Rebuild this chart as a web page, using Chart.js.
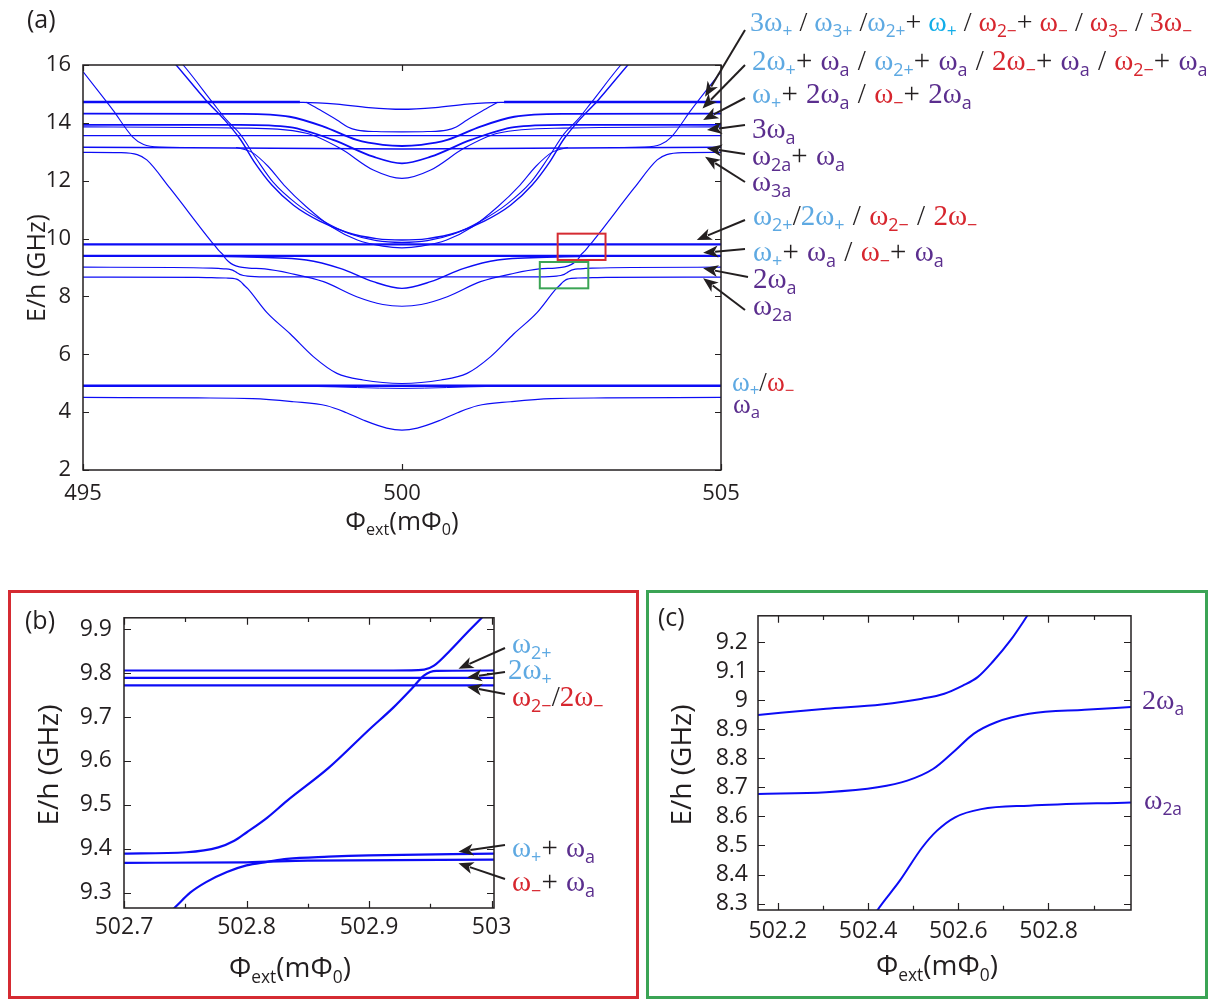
<!DOCTYPE html>
<html>
<head>
<meta charset="utf-8">
<script src="https://cdn.jsdelivr.net/npm/chart.js@4.4.1/dist/chart.umd.min.js"></script>
<style>
  body { margin:0; background:#fff; }
  #fig { position:relative; width:1224px; height:1005px; background:#fff; overflow:hidden; }
  .cv { position:absolute; }
  .frame { position:absolute; box-sizing:border-box; border:3px solid; }
  .red { left:8px; top:590px; width:631px; height:409px; border-color:#d52b32; }
  .green { left:646px; top:590px; width:562px; height:409px; border-color:#3ba455; }
  .lab { position:absolute; font-family:'Liberation Serif', serif; font-size:29px; line-height:29px; white-space:nowrap; color:#231f20; word-spacing:1px; }
  .m27 { font-size:27px; line-height:27px; }
  .m28 { font-size:28px; line-height:28px; }
  .lab sub, .ax sub { font-family:'Open Sans', sans-serif; font-size:0.62em; position:relative; top:0.32em; vertical-align:baseline; line-height:0; }
  .lb { color:#5ea9e2; } .cy { color:#12ade8; } .rd { color:#d7262e; } .pu { color:#5b2e8e; }
  .ax { position:absolute; font-family:'Open Sans', sans-serif; font-size:28px; line-height:28px; white-space:nowrap; color:#231f20; }
  .rot { transform:translate(-50%,-50%) rotate(-90deg); }
  .hc { transform:translateX(-50%); }
</style>
</head>
<body>
<div id="fig">
  <div class="frame red"></div>
  <div class="frame green"></div>
  <div class="cv" style="left:0;top:0;width:760px;height:540px"><canvas id="chartA"></canvas></div>
  <div class="cv" style="left:10px;top:592px;width:626px;height:404px"><canvas id="chartB"></canvas></div>
  <div class="cv" style="left:649px;top:592px;width:556px;height:404px"><canvas id="chartC"></canvas></div>

  <!-- panel (a) text -->
  <div class="ax" style="left:27px;top:4px;font-size:25px">(a)</div>
  <div class="ax rot" style="left:35px;top:268px;font-size:25px">E/h (GHz)</div>
  <div class="ax hc" style="left:402px;top:506px;font-size:26px">Φ<sub>ext</sub>(mΦ<sub>0</sub>)</div>

  <div class="lab m28" style="left:750px;top:8px;word-spacing:0"><span class="lb">3ω<sub>+</sub></span> / <span class="lb">ω<sub>3+</sub></span> /<span class="lb">ω<sub>2+</sub></span>+ <span class="cy">ω<sub>+</sub></span> / <span class="rd">ω<sub>2−</sub></span>+ <span class="rd">ω<sub>−</sub></span> / <span class="rd">ω<sub>3−</sub></span> / <span class="rd">3ω<sub>−</sub></span></div>
  <div class="lab" style="left:752px;top:46px"><span class="lb">2ω<sub>+</sub></span>+ <span class="pu">ω<sub>a</sub></span> / <span class="lb">ω<sub>2+</sub></span>+ <span class="pu">ω<sub>a</sub></span> / <span class="rd">2ω<sub>−</sub></span>+ <span class="pu">ω<sub>a</sub></span> / <span class="rd">ω<sub>2−</sub></span>+ <span class="pu">ω<sub>a</sub></span></div>
  <div class="lab" style="left:752px;top:79px"><span class="lb">ω<sub>+</sub></span>+ <span class="pu">2ω<sub>a</sub></span> /  <span class="rd">ω<sub>−</sub></span>+ <span class="pu">2ω<sub>a</sub></span></div>
  <div class="lab" style="left:752px;top:114px"><span class="pu">3ω<sub>a</sub></span></div>
  <div class="lab" style="left:752px;top:141px"><span class="pu">ω<sub>2a</sub></span>+ <span class="pu">ω<sub>a</sub></span></div>
  <div class="lab" style="left:752px;top:167px"><span class="pu">ω<sub>3a</sub></span></div>
  <div class="lab" style="left:753px;top:201px"><span class="lb">ω<sub>2+</sub></span>/<span class="lb">2ω<sub>+</sub></span> / <span class="rd">ω<sub>2−</sub></span> / <span class="rd">2ω<sub>−</sub></span></div>
  <div class="lab" style="left:753px;top:237px"><span class="lb">ω<sub>+</sub></span>+ <span class="pu">ω<sub>a</sub></span>  / <span class="rd">ω<sub>−</sub></span>+ <span class="pu">ω<sub>a</sub></span></div>
  <div class="lab" style="left:753px;top:264px"><span class="pu">2ω<sub>a</sub></span></div>
  <div class="lab" style="left:753px;top:291px"><span class="pu">ω<sub>2a</sub></span></div>
  <div class="lab m27" style="left:732px;top:369px"><span class="lb">ω<sub>+</sub></span>/<span class="rd">ω<sub>−</sub></span></div>
  <div class="lab m27" style="left:733px;top:391px"><span class="pu">ω<sub>a</sub></span></div>

  <!-- panel (b) text -->
  <div class="ax" style="left:25px;top:605px;font-size:25px">(b)</div>
  <div class="ax rot" style="left:47px;top:765px">E/h (GHz)</div>
  <div class="ax hc" style="left:290px;top:952px">Φ<sub>ext</sub>(mΦ<sub>0</sub>)</div>
  <div class="lab" style="left:512px;top:629px"><span class="lb">ω<sub>2+</sub></span></div>
  <div class="lab" style="left:508px;top:655px"><span class="lb">2ω<sub>+</sub></span></div>
  <div class="lab" style="left:512px;top:682px"><span class="rd">ω<sub>2−</sub></span>/<span class="rd">2ω<sub>−</sub></span></div>
  <div class="lab" style="left:512px;top:833px"><span class="lb">ω<sub>+</sub></span>+ <span class="pu">ω<sub>a</sub></span></div>
  <div class="lab" style="left:512px;top:867px"><span class="rd">ω<sub>−</sub></span>+ <span class="pu">ω<sub>a</sub></span></div>

  <!-- panel (c) text -->
  <div class="ax" style="left:658px;top:602px;font-size:25px">(c)</div>
  <div class="ax rot" style="left:680px;top:765px">E/h (GHz)</div>
  <div class="ax hc" style="left:937px;top:950px">Φ<sub>ext</sub>(mΦ<sub>0</sub>)</div>
  <div class="lab m28" style="left:1142px;top:686px"><span class="pu">2ω<sub>a</sub></span></div>
  <div class="lab m28" style="left:1144px;top:786px"><span class="pu">ω<sub>2a</sub></span></div>
</div>

<script>
// ---- panel (a): energy levels vs external flux, [phi (mPhi0), E/h (GHz)] ----
const phiTicksA = [495, 500, 505];
const eTicksA = [2, 4, 6, 8, 10, 12, 14, 16];

const a_c1 = [[495,14.72],[498.45,14.71],[498.98,14.65],[499.48,14.53],[500,14.47],[500.52,14.53],[501.02,14.65],[501.55,14.71],[505,14.72]];
const a_c1L = [[495,14.72],[498.4,14.72]];
const a_c1R = [[501.6,14.72],[505,14.72]];
const a_c1b = [[498.5,14.71],[498.75,14.4],[498.98,14.1],[499.15,13.86],[499.3,13.75],[499.6,13.7],[500,13.69],[500.4,13.7],[500.7,13.75],[500.85,13.86],[501.02,14.1],[501.25,14.4],[501.5,14.71]];
const a_c2 = [[495,14.32],[497.46,14.31],[498.24,14.21],[498.77,13.87],[499.29,13.41],[499.7,13.24],[500,13.2],[500.3,13.24],[500.71,13.41],[501.23,13.87],[501.76,14.21],[502.54,14.31],[505,14.32]];
const a_c3 = [[495,13.93],[497.46,13.93],[498.24,13.85],[498.92,13.41],[499.55,12.83],[500,12.6],[500.45,12.83],[501.08,13.41],[501.76,13.85],[502.54,13.93],[505,13.93]];
const a_c4 = [[495,13.86],[497.46,13.82],[498.5,13.64],[499.03,13.12],[499.55,12.37],[500,12.08],[500.45,12.37],[500.97,13.12],[501.5,13.64],[502.54,13.82],[505,13.86]];
const a_c5 = [[495,13.56],[505,13.56]];
const a_c6 = [[495,13.16],[500,13.1],[505,13.16]];
const a_p1L = [[495,15.77],[495.47,14.44],[495.78,13.51],[495.95,13.25],[496.2,13.16],[496.6,13.15]];
const a_p1R = [[503.4,13.15],[503.8,13.16],[504.05,13.25],[504.22,13.51],[504.53,14.44],[505,15.77]];
const a_p2 = [[495,12.98],[495.6,12.97],[495.85,12.9],[496.0,12.72],[496.36,11.75],[497.0,9.93],[497.06,9.77],[497.13,9.58],[497.2,9.43],[497.23,9.32],[497.28,9.21],[497.35,9.1],[497.45,9.02],[497.6,8.98],[497.85,8.95],[498.24,8.8],[498.77,8.51],[499.29,7.99],[499.7,7.72],[500,7.66],[500.3,7.72],[500.71,7.99],[501.23,8.51],[501.76,8.8],[502.15,8.95],[502.4,8.98],[502.55,9.02],[502.65,9.1],[502.72,9.21],[502.77,9.32],[502.8,9.43],[502.87,9.58],[502.94,9.77],[503.0,9.93],[503.64,11.75],[504.0,12.72],[504.15,12.9],[504.4,12.97],[505,12.98]];
const a_p3 = [[496.3,16.4],[496.46,16.0],[496.94,14.75],[497.2,14.15],[497.46,13.45],[497.7,12.6],[497.96,11.85],[498.3,11.15],[498.71,10.6],[499.13,10.22],[499.6,10.0],[500,9.95],[500.4,10.0],[500.87,10.22],[501.29,10.6],[501.7,11.15],[502.04,11.85],[502.3,12.6],[502.54,13.45],[502.8,14.15],[503.06,14.75],[503.54,16.0],[503.7,16.4]];
const a_p4 = [[496.4,16.4],[496.57,16.0],[497.04,14.68],[497.25,14.1],[497.46,13.62],[497.72,12.75],[497.98,11.95],[498.35,11.2],[498.77,10.6],[499.2,10.15],[499.6,9.93],[500,9.87],[500.4,9.93],[500.8,10.15],[501.23,10.6],[501.65,11.2],[502.02,11.95],[502.28,12.75],[502.54,13.62],[502.75,14.1],[502.96,14.68],[503.43,16.0],[503.6,16.4]];
const a_p5 = [[497.4,13.15],[497.65,12.98],[497.9,12.5],[498.15,11.85],[498.5,11.1],[498.9,10.4],[499.3,9.95],[499.7,9.74],[500,9.68],[500.3,9.74],[500.7,9.95],[501.1,10.4],[501.5,11.1],[501.85,11.85],[502.1,12.5],[502.35,12.98],[502.6,13.15]];
const a_flat980 = [[495,9.80],[505,9.80]];
const a_flat940 = [[495,9.40],[505,9.40]];
const a_c8 = [[495,9.40],[496.8,9.40],[497.46,9.37],[498.5,9.26],[499.03,8.97],[499.55,8.51],[500,8.28],[500.45,8.51],[500.97,8.97],[501.5,9.26],[502.54,9.37],[503.2,9.40],[505,9.40]];
const a_c11 = [[495,9.01],[496.4,9.0],[497.017,8.976],[497.12,8.967],[497.243,8.953],[497.316,8.924],[497.366,8.884],[497.407,8.827],[497.456,8.763],[497.513,8.723],[497.579,8.70],[497.693,8.683],[497.844,8.677],[502.156,8.677],[502.307,8.683],[502.421,8.70],[502.487,8.723],[502.544,8.763],[502.593,8.827],[502.634,8.884],[502.684,8.924],[502.757,8.953],[502.88,8.967],[502.983,8.976],[503.6,9.0],[505,9.01]];
const a_c12 = [[495,8.67],[496.8,8.66],[497.017,8.648],[497.243,8.637],[497.349,8.625],[497.407,8.597],[497.447,8.551],[497.48,8.493],[497.53,8.378],[497.579,8.278],[497.88,7.45],[498.25,6.7],[498.61,5.92],[498.98,5.34],[499.39,5.11],[500,4.99],[500.61,5.11],[501.02,5.34],[501.39,5.92],[501.75,6.7],[502.12,7.45],[502.421,8.278],[502.47,8.378],[502.52,8.493],[502.553,8.551],[502.593,8.597],[502.651,8.625],[502.757,8.637],[502.983,8.648],[503.2,8.66],[505,8.67]];
const a_flat491 = [[495,4.91],[505,4.91]];
const a_c14 = [[495,4.9],[498.6,4.89],[499.3,4.85],[500,4.82],[500.7,4.85],[501.4,4.89],[505,4.9]];
const a_c15 = [[495,4.51],[496.8,4.49],[497.66,4.47],[498.3,4.36],[498.82,4.22],[499.13,3.98],[499.39,3.73],[499.76,3.45],[500,3.38],[500.24,3.45],[500.61,3.73],[500.87,3.98],[501.18,4.22],[501.7,4.36],[502.34,4.47],[503.2,4.49],[505,4.51]];

// zoom windows marked in (a): [phi range], [E range]
const boxRedA = [[502.44, 503.19], [9.26, 10.17]];
const boxGreenA = [[502.16, 502.92], [8.28, 9.19]];

// ---- panel (b) ----
const phiTicksB = [502.7, 502.8, 502.9, 503];
const phiMinorB = [502.75, 502.85, 502.95];
const eTicksB = [9.3, 9.4, 9.5, 9.6, 9.7, 9.8, 9.9];
const b_top = [[502.7,9.806],[502.92,9.806],[502.945,9.808],[502.953,9.817],[502.966,9.851],[502.979,9.889],[502.992,9.926],[503.0,9.95]];
const b_rise = [[502.7,9.389],[502.751,9.392],[502.777,9.403],[502.79,9.418],[502.8,9.437],[502.817,9.471],[502.833,9.509],[502.867,9.584],[502.9,9.671],[502.92,9.722],[502.935,9.765],[502.945,9.795],[502.955,9.805],[503.002,9.806]];
const b_mid1 = [[502.7,9.789],[503.002,9.789]];
const b_mid2 = [[502.7,9.772],[503.002,9.772]];
const b_flat = [[502.7,9.368],[502.8,9.369],[502.85,9.373],[503.002,9.375]];
const b_low = [[502.728,9.235],[502.741,9.265],[502.754,9.30],[502.767,9.324],[502.784,9.347],[502.8,9.362],[502.817,9.370],[502.833,9.377],[502.867,9.382],[502.9,9.385],[503.002,9.389]];

// ---- panel (c) ----
const phiTicksC = [502.2, 502.4, 502.6, 502.8];
const phiMinorC = [502.3, 502.5, 502.7, 502.9];
const eTicksC = [8.3, 8.4, 8.5, 8.6, 8.7, 8.8, 8.9, 9.0, 9.1, 9.2];
const c_top = [[502.156,8.949],[502.307,8.970],[502.43,8.985],[502.52,9.005],[502.569,9.022],[502.61,9.05],[502.643,9.079],[502.676,9.131],[502.716,9.206],[502.753,9.29],[502.77,9.33]];
const c_mid = [[502.156,8.677],[502.307,8.683],[502.421,8.70],[502.487,8.723],[502.544,8.763],[502.593,8.827],[502.634,8.884],[502.684,8.924],[502.757,8.953],[502.88,8.967],[502.983,8.976]];
const c_low = [[502.41,8.25],[502.421,8.278],[502.47,8.378],[502.52,8.493],[502.553,8.551],[502.593,8.597],[502.651,8.625],[502.757,8.637],[502.983,8.648]];

// arrows: tip in data units, tail in canvas pixels
const arrowsA = [
  {tip:[504.75,14.90], tail:[745,30]}, {tip:[504.71,14.50], tail:[745,65]},
  {tip:[504.72,14.10], tail:[745,98]}, {tip:[504.78,13.75], tail:[745,125]},
  {tip:[504.78,13.12], tail:[745,154]}, {tip:[504.75,12.83], tail:[745,182]},
  {tip:[504.62,9.95], tail:[745,220]}, {tip:[504.72,9.51], tail:[745,249]},
  {tip:[504.72,8.97], tail:[748,277]}, {tip:[504.72,8.63], tail:[745,310]}
];
const arrowsB = [
  {tip:[502.973,9.81], tail:[495,56]}, {tip:[502.98,9.79], tail:[495,80]},
  {tip:[502.98,9.769], tail:[495,102]}, {tip:[502.973,9.393], tail:[495,253]},
  {tip:[502.973,9.367], tail:[495,287]}
];

const BLUE = 'rgb(12,12,245)';
const INK = '#231f20';
const fmt = v => String(parseFloat(Number(v).toFixed(3)));

function curve(pts, w) {
  return { data: pts.map(p => ({x: p[0], y: p[1]})), borderColor: BLUE, borderWidth: w,
    pointRadius: 0, showLine: true, fill: false, cubicInterpolationMode: 'monotone' };
}

function axis(min, max, ticks, size, pad, fit, horizontal) {
  return {
    type: 'linear', min: min, max: max,
    afterBuildTicks: s => { s.ticks = ticks.map(v => ({value: v})); },
    afterFit: s => { if (horizontal) s.height = fit; else s.width = fit; },
    grid: { display: false, drawTicks: false }, border: { display: false },
    ticks: { padding: pad, color: INK, font: { family: "'Open Sans', sans-serif", size: size },
      maxRotation: 0, autoSkip: false, callback: v => fmt(v) }
  };
}

function drawArrow(ctx, x0, y0, x1, y1) {
  const a = Math.atan2(y1 - y0, x1 - x0), c = Math.cos(a), s = Math.sin(a);
  const L = 15, W = 6, N = 4;
  ctx.strokeStyle = INK; ctx.fillStyle = INK; ctx.lineWidth = 2;
  ctx.beginPath(); ctx.moveTo(x0, y0); ctx.lineTo(x1 - c * (L - 3), y1 - s * (L - 3)); ctx.stroke();
  ctx.beginPath();
  ctx.moveTo(x1, y1);
  ctx.lineTo(x1 - L * c + W * s, y1 - L * s - W * c);
  ctx.lineTo(x1 - (L - N) * c, y1 - (L - N) * s);
  ctx.lineTo(x1 - L * c - W * s, y1 - L * s + W * c);
  ctx.closePath(); ctx.fill();
}

const framePlugin = {
  id: 'frame',
  afterDatasetsDraw(chart, args, o) {
    const {ctx, chartArea: a, scales: {x, y}} = chart;
    ctx.save();
    (o.boxes || []).forEach(b => {
      const x0 = x.getPixelForValue(b.r[0][0]), x1 = x.getPixelForValue(b.r[0][1]);
      const y0 = y.getPixelForValue(b.r[1][1]), y1 = y.getPixelForValue(b.r[1][0]);
      ctx.strokeStyle = b.color; ctx.lineWidth = 2;
      ctx.strokeRect(x0, y0, x1 - x0, y1 - y0);
    });
    ctx.strokeStyle = INK; ctx.lineWidth = 1.5;
    ctx.strokeRect(a.left, a.top, a.right - a.left, a.bottom - a.top);
    ctx.lineWidth = 1.2; ctx.beginPath();
    const tx = (vals, len) => vals.forEach(v => {
      const p = Math.round(x.getPixelForValue(v)) + 0.5;
      ctx.moveTo(p, a.bottom); ctx.lineTo(p, a.bottom - len);
      ctx.moveTo(p, a.top); ctx.lineTo(p, a.top + len);
    });
    const ty = (vals, len) => vals.forEach(v => {
      const p = Math.round(y.getPixelForValue(v)) + 0.5;
      ctx.moveTo(a.left, p); ctx.lineTo(a.left + len, p);
      ctx.moveTo(a.right, p); ctx.lineTo(a.right - len, p);
    });
    tx(o.xMajor, o.len); tx(o.xMinor || [], o.len * 0.6);
    ty(o.yMajor, o.len);
    ctx.stroke();
    (o.arrows || []).forEach(ar => drawArrow(ctx, ar.tail[0], ar.tail[1],
      x.getPixelForValue(ar.tip[0]), y.getPixelForValue(ar.tip[1])));
    ctx.restore();
  }
};

function baseOptions(pad, scales, frame) {
  return {
    responsive: true, maintainAspectRatio: false, animation: false, events: [],
    layout: { padding: pad },
    scales: scales,
    plugins: { legend: { display: false }, tooltip: { enabled: false }, frame: frame }
  };
}

new Chart(document.getElementById('chartA'), {
  type: 'scatter',
  data: { datasets: [
    curve(a_c1, 1.3), curve(a_c1L, 2.4), curve(a_c1R, 2.4), curve(a_c1b, 1.1),
    curve(a_c2, 1.9), curve(a_c3, 1.8), curve(a_c4, 1.2), curve(a_c5, 1.3), curve(a_c6, 1.5),
    curve(a_p1L, 1.1), curve(a_p1R, 1.1), curve(a_p2, 1.2), curve(a_p3, 1.4), curve(a_p4, 1.1), curve(a_p5, 1.1),
    curve(a_flat980, 2.4), curve(a_flat940, 2.2), curve(a_c8, 1.4), curve(a_c11, 1.2), curve(a_c12, 1.2),
    curve(a_flat491, 2.4), curve(a_c14, 1.0), curve(a_c15, 1.2)
  ]},
  options: baseOptions({left: 0, top: 65, right: 39, bottom: 0}, {
    x: axis(495, 505, phiTicksA, 22, 11, 70, true),
    y: axis(2, 16, eTicksA, 22, 12, 83, false)
  }, { xMajor: phiTicksA, yMajor: eTicksA, len: 6, arrows: arrowsA,
       boxes: [{r: boxRedA, color: '#d52b32'}, {r: boxGreenA, color: '#3ba455'}] }),
  plugins: [framePlugin]
});

new Chart(document.getElementById('chartB'), {
  type: 'scatter',
  data: { datasets: [
    curve(b_top, 2.2), curve(b_rise, 2.2), curve(b_mid1, 2.2), curve(b_mid2, 2.2),
    curve(b_flat, 2.2), curve(b_low, 2.2)
  ]},
  options: baseOptions({left: 0, top: 19, right: 142, bottom: 0}, {
    x: axis(502.7, 503.002, phiTicksB, 23, 6, 88, true),
    y: axis(9.265, 9.926, eTicksB, 23, 12, 114, false)
  }, { xMajor: phiTicksB, xMinor: phiMinorB, yMajor: eTicksB, len: 7, arrows: arrowsB }),
  plugins: [framePlugin]
});

new Chart(document.getElementById('chartC'), {
  type: 'scatter',
  data: { datasets: [ curve(c_top, 2.0), curve(c_mid, 2.0), curve(c_low, 2.0) ]},
  options: baseOptions({left: 0, top: 23, right: 74, bottom: 0}, {
    x: axis(502.156, 502.983, phiTicksC, 23, 8, 86, true),
    y: axis(8.278, 9.29, eTicksC, 23, 10, 109, false)
  }, { xMajor: phiTicksC, xMinor: phiMinorC, yMajor: eTicksC, len: 7 }),
  plugins: [framePlugin]
});
</script>
</body>
</html>
